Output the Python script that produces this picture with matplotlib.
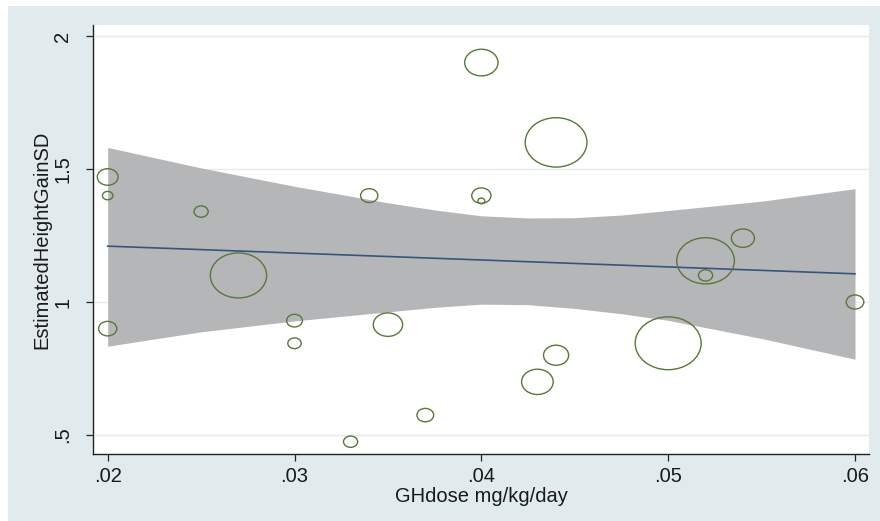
import numpy as np
import matplotlib
matplotlib.use("Agg")
import matplotlib.pyplot as plt
from matplotlib.path import Path
from matplotlib.patches import Rectangle

plt.rcParams['font.family'] = ['Liberation Sans', 'DejaVu Sans']

# one bubble per study: GH dose vs estimated height gain, size = study weight
gh_dose = [0.020, 0.020, 0.020, 0.025, 0.027, 0.030, 0.030, 0.033, 0.034, 0.035, 0.037,
           0.040, 0.040, 0.040, 0.043, 0.044, 0.044, 0.050, 0.052, 0.052, 0.054, 0.060]
height_gain = [1.47, 1.40, 0.90, 1.34, 1.10, 0.93, 0.845, 0.475, 1.40, 0.915, 0.575,
               1.90, 1.40, 1.38, 0.70, 1.60, 0.80, 0.845, 1.155, 1.10, 1.24, 1.00]
study_weight = [4.3, 1.1, 3.3, 2.0, 31.7, 2.5, 1.8, 2.0, 3.0, 8.6, 2.8,
                11.1, 3.7, 0.5, 10.0, 38.1, 6.3, 43.6, 33.3, 2.0, 5.3, 3.1]

# fitted line and its 95% CI
fit_dose = [0.02, 0.06]
fit_gain = [1.21, 1.106]
band_dose = [0.020, 0.025, 0.030, 0.035, 0.0375, 0.040, 0.0425, 0.045, 0.0475,
             0.050, 0.055, 0.060]
band_upper = [1.581, 1.504, 1.435, 1.373, 1.346, 1.324, 1.316, 1.317, 1.327,
              1.344, 1.379, 1.426]
band_lower = [0.834, 0.888, 0.929, 0.963, 0.980, 0.992, 0.990, 0.976, 0.956,
              0.931, 0.863, 0.785]

x_ticks = [0.02, 0.03, 0.04, 0.05, 0.06]
x_tick_labels = ['.02', '.03', '.04', '.05', '.06']
y_ticks = [0.5, 1.0, 1.5, 2.0]
y_tick_labels = ['.5', '1', '1.5', '2']

BG = '#E1EBED'
GRID = '#E3ECEE'
BAND = '#B5B6B8'
LINE = '#35557F'
GREEN = '#587838'
TEXT = '#1a1a1a'

W, H = 880, 521
fig = plt.figure(figsize=(W / 100, H / 100), dpi=100, facecolor='white')
# Stata-like graph region (thin white strip left and top)
fig.add_artist(Rectangle((8 / W, 0), 1, 1 - 6 / H, transform=fig.transFigure,
                         facecolor=BG, edgecolor='none', zorder=-10))

ax = fig.add_axes([93 / W, 1 - 454 / H, 776 / W, 429 / H])
ax.set_facecolor('white')

ax.fill_between(band_dose, band_lower, band_upper, color=BAND, lw=0, zorder=1)
ax.plot(fit_dose, fit_gain, color=LINE, lw=1.2, zorder=2)

# circles in the source are stretched a bit horizontally
circ = Path.unit_circle()
ell = Path(circ.vertices * [1.25, 1.0], circ.codes)
sizes = np.array(study_weight) * 51.84
ax.scatter(gh_dose, height_gain, s=sizes, marker=ell, facecolors='none',
           edgecolors=GREEN, linewidths=1.0, zorder=3)

ax.set_xlim(0.019214, 0.060749)
ax.set_ylim(0.4288, 2.0412)

ax.set_xticks(x_ticks)
ax.set_xticklabels(x_tick_labels)
ax.set_yticks(y_ticks)
ax.set_yticklabels(y_tick_labels, rotation=90, va='center')

ax.yaxis.grid(True, color=GRID, lw=1.0)
ax.set_axisbelow(True)

for s in ['top', 'right']:
    ax.spines[s].set_visible(False)
for s in ['left', 'bottom']:
    ax.spines[s].set_color('#222222')
    ax.spines[s].set_linewidth(1.0)

ax.tick_params(axis='both', direction='out', length=5, width=0.9, color='#222222',
               labelsize=14.5, labelcolor=TEXT)
ax.tick_params(axis='y', pad=10)
ax.tick_params(axis='x', pad=4)

ax.set_xlabel('GHdose mg/kg/day', fontsize=14.5, color=TEXT)
ax.set_ylabel('EstimatedHeightGainSD', fontsize=14.5, color=TEXT)
ax.xaxis.set_label_coords(0.5, -0.078)
ax.yaxis.set_label_coords(-0.054, 0.5)

fig.savefig('out.png', dpi=100)
